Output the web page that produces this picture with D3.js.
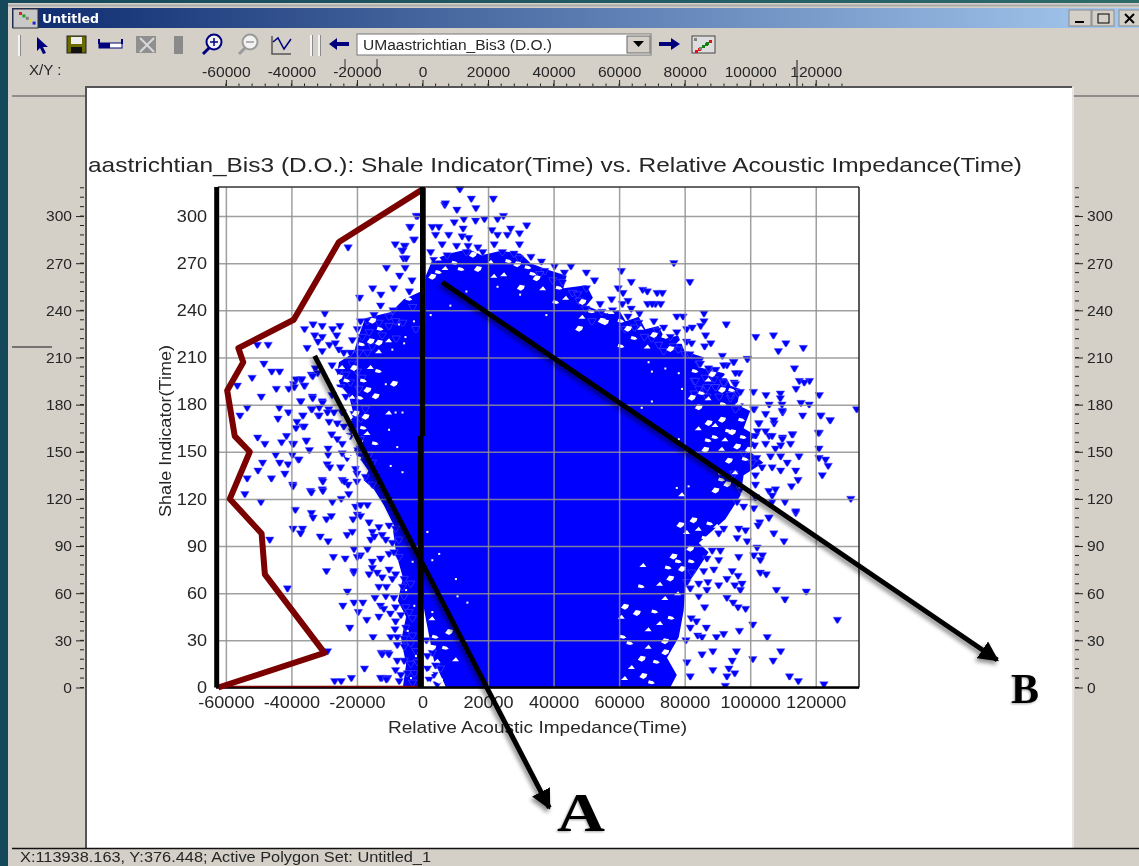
<!DOCTYPE html>
<html>
<head>
<meta charset="utf-8">
<title>Untitled</title>
<script src="https://cdn.jsdelivr.net/npm/d3@7"></script>
<style>
  html, body { margin: 0; padding: 0; background: #14485a; overflow: hidden; }
  svg { display: block; filter: blur(0.35px); }
  text { font-family: "Liberation Sans", Arial, sans-serif; fill: #262626; }
</style>
</head>
<body>
<div id="chart"></div>
<script>
'use strict'
/*
 @Data
*/
const xTicks = [-60000, -40000, -20000, 0, 20000, 40000, 60000, 80000, 100000, 120000]
const yTicks = [0, 30, 60, 90, 120, 150, 180, 210, 240, 270, 300]
const xDomain = [-62800, 133200]
const yDomain = [0, 318.5]

const titleText = 'aastrichtian_Bis3 (D.O.): Shale Indicator(Time) vs. Relative Acoustic Impedance(Time)'
const xLabel = 'Relative Acoustic Impedance(Time)'
const yLabel = 'Shale Indicator(Time)'
const statusText = 'X:113938.163,  Y:376.448;  Active Polygon Set: Untitled_1'
const comboText = 'UMaastrichtian_Bis3 (D.O.)'

// outline of the part of the cloud where the markers merge to near solid blue
const coreX = [1000, 3000, 8000, 14000, 18000, 24000, 30000, 33000, 38000, 44000, 43000, 50000, 52000, 50000, 56000, 60000, 62000, 66000, 68000, 72000, 74000, 78000, 80000, 86000, 84000, 92000, 94000, 97000, 96000, 100000, 98000, 102000, 100000, 104000, 98000, 97000, 92400, 84300, 87300, 83300, 80200, 79700, 78200, 74600, 77600, 75600, 7200, 3500, 1070, -1070, -4100, -8700, -11800, -14800, -18000, -16500, -20900, -18000, -23100, -20900, -22500, -25000, -26100, -25500, -21000, -19400, -17500, -9600, -5700, 460]
const coreY = [262, 272, 276, 279, 275, 278, 276, 270, 266, 262, 254, 256, 248, 243, 238, 240, 233, 236, 228, 230, 222, 224, 214, 210, 204, 200, 192, 190, 180, 176, 165, 160, 150, 143, 135, 122, 107, 92, 86, 73, 64, 49, 32, 19, 8, 0, 0, 17, 43, 68, 87, 103, 116, 126, 132, 138, 151, 157, 167, 173, 186, 192, 199, 207, 213, 224, 235, 239, 247, 253]

// crowded wedge left of the zero line at the bottom of the plot
const wedgeX = [-1000, -9000, -8000, -6000, -7500, -5000, -6500, -5000, -6000, -500]
const wedgeY = [100, 100, 85, 70, 55, 45, 30, 15, 0, 0]

// holes left in the blue
const smallGaps = [[-7200,231],[-5200,223],[-2600,233],[-9200,215],[-5600,219],[-11200,193],[-6100,175],[-8200,175],[-10200,164],[-7700,153],[-6100,137],[-9700,141],[3000,81],[10200,69],[5100,85],[1500,99],[10700,58],[13700,54],[3000,48],[22900,255],[29800,250],[13400,252],[8500,243],[2500,237],[37800,237],[70000,201],[74100,203],[78200,200],[69000,207],[79200,190],[70000,182],[66900,178],[78200,158],[81200,128],[77600,127],[-3000,80],[-5000,62],[-2500,52],[-4500,36],[-2000,20],[-3500,6]]
const largeGaps = [[-13300,220],[-13300,214],[-17900,196],[-14300,186],[-16800,162],[-14300,156],[-17400,173],[-10200,175],[-13300,202],[-8700,194],[3000,44],[4000,33],[3000,26],[4600,17],[2500,10],[5100,5],[2000,3],[7100,26],[8100,36],[10200,18],[11900,267],[3000,262],[21900,262],[33800,264],[30000,255],[-5000,257],[-4000,248],[47800,229],[48800,236],[60700,218],[54700,234],[84300,165],[89400,160],[87300,169],[89400,167],[93500,164],[91400,171],[79200,123],[91400,133],[89400,126],[67400,78],[78200,81],[76600,84],[72500,66],[66900,65],[75600,70],[74100,57],[71000,49],[61800,52],[69000,37],[61300,33],[66900,19],[63900,13],[71500,17],[67400,8],[61800,6],[70000,4],[74100,23],[69000,26],[63400,29],[65400,48],[60800,45],[75100,77],[78700,104],[72500,41]]
const rightBandGaps = [[97500,171],[94500,163],[92400,158],[98000,160],[96000,154],[91400,152],[98600,146],[93500,145],[95500,137],[91400,137],[93000,130],[97500,128],[87300,158],[86300,152],[87300,196],[83300,202],[88400,200],[92400,198],[85300,188],[91400,190],[87300,184],[94500,190],[82200,185],[96500,181],[91900,181],[84300,179],[99600,166],[101600,158],[99600,152],[84300,101],[87800,105],[82700,107],[80700,99],[86300,96],[81700,89],[89900,103],[82200,81],[79200,76],[78000,60],[76000,45],[74000,30]]
const leftBandGaps = [[-24500,204],[-23000,196],[-25500,190],[-21400,185],[-23000,180],[-20400,175],[-22500,171],[-20400,162],[-23000,160],[-20900,154],[-22500,148],[-19900,146],[-18400,141],[-17900,166],[-16800,190],[-15800,204],[-18400,219],[-15800,221],[-21400,217],[-12800,229],[-15300,234],[-10200,221],[-18900,185],[-25500,198],[-26500,183],[-24500,179],[-20900,204]]
const topBandGaps = [[5000,273],[10000,271],[15400,276],[20900,271],[26400,272],[28900,270],[7000,267],[5000,265],[16900,267],[24900,263],[32300,268],[34800,261],[36800,254],[41800,255],[44800,261],[43800,248],[40800,246],[48800,246],[52200,246],[51700,240],[55700,233],[57700,239],[60700,234],[62700,229],[66700,229],[64700,223],[70600,225],[68700,217],[74100,224],[75600,216],[78600,220]]

// single markers around the cloud: left side, upper part
const leftUpper = [[-29800,238],[-36000,228],[-33400,231],[-30600,230],[-27400,228],[-25200,230],[-32900,224],[-30600,223],[-26200,224],[-31900,220],[-35200,216],[-28400,218],[-26600,219],[-21400,221],[-30600,214],[-25500,215],[-32700,203],[-33900,199],[-37200,196],[-35900,192],[-39300,193],[-37200,182],[-33600,185],[-30600,182],[-33900,177],[-31500,178],[-36500,173],[-31800,173],[-28600,177],[-38300,169],[-36500,166],[-27700,161],[-35500,157],[-39600,155],[-34500,151],[-28800,152],[-28800,148],[-37900,145],[-29100,142],[-28300,140],[-25000,140],[-39600,129],[-30600,132],[-34200,125],[-30600,126],[-24500,132],[-22700,129],[-22500,123],[-20000,131],[-20000,136],[-24500,149],[-50400,218],[-47100,218],[-48400,206],[-46000,201],[-43600,201],[-52000,197],[-56500,192],[-49200,185],[-53500,178],[-55700,173],[-44100,171],[-50300,159],[-38600,196],[-36800,196],[-44600,190],[-40800,190],[-39100,191],[-36100,192],[-37100,182],[-33500,184],[-43700,178],[-40900,175],[-33700,177],[-36500,173],[-31500,173],[-30500,181],[-36100,166],[-41500,160],[-38600,165],[-29000,175],[-28500,169],[-32000,200],[-33500,198],[-18900,233],[-16800,233],[-19900,228],[-18400,223],[-16300,226],[-14800,237],[-12800,243],[-13300,232],[-10200,236],[-8200,233],[-10200,230],[-24000,213],[-22000,213],[-19400,213],[-16800,213],[-15300,217],[-12300,224],[-27600,205],[-21400,206],[-25500,201],[-23400,199],[-19900,201],[-18400,197],[-27600,186],[-25000,191],[-22000,194],[-19400,190],[-23400,185],[-20900,183],[-24500,175],[-17400,177],[-27000,175],[-20900,174],[-24000,166],[-18900,171],[-21400,163],[-18900,158],[-24500,155],[-20400,139],[-17400,134],[-15300,143],[-16300,148],[-15300,129],[-22000,160],[-26000,168],[-23000,146],[-19000,147],[-20000,152],[-26000,158]]

// left side, lower part
const leftLower = [[-48100,155],[-43000,156],[-39300,155],[-35400,157],[-44800,148],[-39700,148],[-37700,145],[-48800,143],[-43600,143],[-41000,142],[-50200,138],[-42000,136],[-53500,133],[-46100,133],[-39500,128],[-54200,123],[-33900,124],[-30400,131],[-30400,125],[-49300,118],[-38800,113],[-33900,111],[-33400,108],[-29300,107],[-27800,109],[-39500,101],[-36600,101],[-37200,98],[-31200,96],[-28800,93],[-46600,94],[-27200,83],[-23600,82],[-29300,74],[-21000,73],[-41200,63],[-22900,61],[-24300,52],[-20900,54],[-18200,54],[-19600,48],[-17000,43],[-22200,38],[-15100,32],[-29000,23],[-12600,22],[-10600,22],[-17700,12],[-21700,6],[-26800,4],[-24800,4],[-12400,6],[-10600,6],[-27500,118],[-24800,120],[-23800,131],[-16300,105],[-15300,99],[-13300,102],[-12300,97],[-11200,94],[-15800,94],[-14700,96],[-10200,103],[-8200,101],[-9200,92],[-7200,94],[-20900,88],[-16800,88],[-10200,85],[-8700,86],[-7200,83],[-15300,80],[-12800,82],[-15300,76],[-16300,72],[-13800,73],[-10200,75],[-12300,70],[-8200,72],[-5600,69],[-9200,69],[-13300,64],[-11000,64],[-6100,64],[-3600,66],[-14500,57],[-11200,58],[-8700,57],[-5600,58],[-12800,52],[-11800,50],[-8200,51],[-5100,51],[-9800,47],[-13300,45],[-6600,46],[-4100,48],[-3100,44],[-8200,42],[-5100,38],[-8400,37],[-9700,32],[-7700,32],[-5600,31],[-3100,33],[-3600,28],[-7700,27],[-5600,26],[-2000,23],[-7700,17],[-5600,17],[-3600,15],[-8200,11],[-6600,8],[-4600,9],[-2500,9],[-7100,4],[-3000,3],[-1500,16],[-12300,21],[-10200,21],[-12800,6],[-11000,5],[-20400,115],[-18900,116],[-16800,116],[-19900,110],[-21200,107],[-18900,109],[-23000,97],[-21400,99],[-18900,84],[-19900,83],[-20900,74],[1200,30],[3000,22],[1500,20],[4000,14],[1500,12],[3500,8],[5500,12],[2000,5],[4500,2]]

// above the cloud
const topFringe = [[6800,307],[-1900,300],[-3900,293],[-22700,280],[-8300,282],[-5300,281],[-2700,285],[-6300,278],[-5800,273],[-11000,267],[-15200,254],[-12700,250],[-8800,254],[-19200,248],[-5300,267],[-3200,259],[-7000,262],[-4000,252],[11400,317],[14900,311],[21600,311],[7000,308],[10500,304],[16300,305],[-1500,300],[-3700,293],[12600,298],[9700,296],[16200,297],[18900,298],[22900,298],[24700,300],[31800,294],[26900,292],[21200,291],[29600,289],[12400,292],[3000,293],[5000,293],[4000,288],[8000,288],[12100,287],[14100,286],[22900,288],[25900,288],[29600,282],[-2500,285],[6000,282],[10400,281],[13900,281],[16900,280],[21900,282],[-5500,281],[-6000,278],[2500,277],[7500,275],[13400,277],[18400,277],[24400,277],[27900,276],[33100,274],[29500,273],[-5000,273],[3500,272],[36300,271],[45300,268],[40300,268],[76700,270],[81600,258],[60700,265],[63700,258],[50000,264],[52500,259],[43300,264],[37300,265],[39800,259],[35800,263],[42800,258],[50000,254],[67200,253],[71600,251],[59700,254],[61200,251],[57700,247],[62700,246],[61000,244],[68700,244],[71100,244],[54200,244],[63700,241],[45800,251],[47300,250],[47800,246],[49800,241],[51700,233],[54700,239],[77600,236],[70600,233],[66200,238],[62700,236],[73600,229],[80600,228],[77600,226],[80600,220],[75600,223],[71600,227],[72100,218],[67700,223],[61700,228],[64700,229],[76600,217],[73600,214],[80100,212],[78100,215],[68600,252],[73200,251],[70100,244],[72700,244],[58000,240],[66000,232],[70000,222],[-9000,240],[-3000,242],[-6000,232],[-2000,228],[-8000,222]]

// right side, upper part
const rightUpper = [[85900,238],[79500,236],[85900,233],[92700,231],[84900,230],[82300,229],[86400,224],[101700,223],[107100,224],[110900,219],[116200,216],[108600,214],[82100,219],[88000,219],[86100,217],[91500,211],[81600,212],[94900,207],[99200,209],[113500,203],[92900,205],[96600,200],[84400,206],[87500,202],[89500,202],[115000,195],[118100,195],[116500,194],[114000,190],[121100,186],[101000,188],[104800,186],[109200,187],[109200,184],[109700,180],[115500,181],[118000,180],[105800,180],[101200,177],[116000,173],[109900,175],[121600,173],[124400,170],[107300,168],[102700,168],[132500,177],[95100,194],[89000,196],[92000,193],[82900,195],[86400,189],[89500,191],[96300,187],[82900,187],[94000,184],[90500,185],[96700,179],[121100,162],[113000,161],[109900,159],[105800,160],[102200,163],[84800,206],[87300,203],[89400,202],[91900,205],[95000,207],[99100,209],[95500,200],[83300,195],[86300,197],[91900,194],[89400,191],[95500,193],[86800,191],[97000,188],[84300,190],[86800,185],[94000,186],[95500,177],[101100,177],[104700,174],[107200,170],[102600,168],[109800,176]]

// right side, middle
const rightMiddle = [[104700,163],[101600,160],[106700,160],[109800,158],[112800,161],[112300,155],[109300,154],[104700,155],[101300,154],[107700,152],[120800,162],[121500,173],[124400,170],[121000,152],[121000,146],[123000,145],[123800,141],[114900,147],[109300,147],[106200,147],[111300,143],[113900,138],[122000,135],[114600,132],[112600,128],[107700,126],[105700,125],[106700,122],[102000,146],[103600,140],[106700,140],[109300,138],[101600,135],[101600,129],[130700,120],[110600,118],[113900,111],[106700,118],[98000,149],[100600,143],[95000,136],[97000,126],[101600,121],[101100,114],[105700,108],[96000,118],[98000,115]]

// right side, lower part
const rightLower = [[113900,112],[105700,108],[102900,105],[107200,98],[110300,93],[102400,103],[96500,101],[98600,100],[91900,101],[96000,95],[99100,93],[90400,98],[102100,89],[96500,83],[101100,84],[103700,84],[103100,81],[88400,87],[90900,87],[90400,81],[86800,82],[103100,73],[104900,72],[94500,74],[96300,71],[92900,69],[88900,75],[85800,74],[82200,73],[84300,66],[87100,67],[80700,67],[90400,65],[95300,65],[97500,66],[97000,62],[86800,62],[81700,63],[108000,62],[117100,61],[110600,56],[84300,58],[92900,57],[94800,54],[96300,51],[98600,50],[86100,51],[126600,43],[100800,40],[96700,36],[86600,38],[82000,44],[83600,42],[81700,38],[105200,32],[91900,34],[89700,32],[84000,33],[85300,32],[80400,30],[109300,23],[95800,23],[88600,23],[85300,21],[100800,18],[94500,17],[107000,17],[80700,16],[93500,12],[88600,11],[95300,9],[92900,7],[112000,7],[81700,7],[114700,4],[122500,2],[92400,1]]

// hand drawn polygon (dark red) and the black marks put on top of the plot
const polygonX = [-62300, -29900, -48100, -49100, -58800, -52700, -57300, -58800, -59600, -54700, -56200, -39300, -25500, 0]
const polygonY = [0, 22, 72, 98, 120, 150, 160, 179, 189, 207, 216, 234, 283.5, 317]
const polygonBaseX = [-62300, 0]
const polygonBaseY = [0.6, 0.6]
const polygonEdgeX = [800, 800]
const polygonEdgeY = [232, 318]
const leftBarX = [-62800, -62800]
const leftBarY = [0, 318.5]
const zeroLineUpperX = [0, 0]
const zeroLineUpperY = [160, 318.5]
const zeroLineLowerX = [-500, -500]
const zeroLineLowerY = [0, 160]
const arrowAX = [-32900, 38700]
const arrowAY = [211, -76.6]
const arrowBX = [6000, 175400]
const arrowBY = [258, 17.5]

/*
 @Constants: layout
*/
const totalWidth = 1139
const totalHeight = 866
const plot = { left: 218, right: 859, top: 187, bottom: 687.5 }

const xscale = d3.scaleLinear().domain(xDomain).range([plot.left - 1.3, plot.right])
const yscale = d3.scaleLinear().domain(yDomain).range([plot.bottom, plot.top])

const svg = d3.select('#chart').append('svg')
  .attr('width', totalWidth)
  .attr('height', totalHeight)

const defs = svg.append('defs')
const titleGrad = defs.append('linearGradient').attr('id', 'titleGrad')
titleGrad.append('stop').attr('offset', '0%').attr('stop-color', '#0c2a6e')
titleGrad.append('stop').attr('offset', '100%').attr('stop-color', '#a6caf0')
const tealGrad = defs.append('linearGradient').attr('id', 'tealGrad')
tealGrad.append('stop').attr('offset', '0%').attr('stop-color', '#14485a')
tealGrad.append('stop').attr('offset', '100%').attr('stop-color', '#2f6a6a')
defs.append('clipPath').attr('id', 'plotClip').append('rect')
  .attr('x', plot.left).attr('y', plot.top - 1)
  .attr('width', plot.right - plot.left).attr('height', plot.bottom - plot.top + 1)
defs.append('marker').attr('id', 'arrowHead')
  .attr('viewBox', '0 0 10 10').attr('refX', 9).attr('refY', 5)
  .attr('markerWidth', 4).attr('markerHeight', 4.2).attr('orient', 'auto')
  .append('path').attr('d', 'M0,0 L10,5 L0,10 Z').attr('fill', '#000')

function box(x, y, w, h, fill, stroke) {
  return svg.append('rect').attr('x', x).attr('y', y).attr('width', w).attr('height', h)
    .attr('fill', fill).attr('stroke', stroke || 'none')
}
function hline(x1, x2, y, color, w) {
  svg.append('line').attr('x1', x1).attr('x2', x2).attr('y1', y).attr('y2', y)
    .attr('stroke', color).attr('stroke-width', w || 1)
}
// the source screenshot is stretched sideways, so stretch real text the same way
function stretch(sel, factor) {
  sel.each(function () {
    let len = this.getComputedTextLength()
    d3.select(this).attr('textLength', len * factor).attr('lengthAdjust', 'spacingAndGlyphs')
  })
  return sel
}
function label(txt, x, y, size, anchor, factor) {
  let t = svg.append('text').attr('x', x).attr('y', y)
    .style('font-size', size + 'px').attr('text-anchor', anchor || 'start').text(txt)
  return stretch(t, factor || 1)
}

/*
 Window frame
*/
box(0, 0, totalWidth, 3, 'url(#tealGrad)')
box(0, 0, 8, totalHeight, '#14485a')
box(8, 3, totalWidth - 8, totalHeight - 3, '#d4d0c8')
hline(8, totalWidth, 5.5, '#a9a9a9', 2)
box(12, 8, totalWidth - 12, 20, 'url(#titleGrad)')
box(13, 9, 25, 19, '#c8c8c8', '#333')
svg.selectAll('.titleDot').data(['#e02020', '#20a020', '#808080', '#e0e020', '#2020e0']).enter()
  .append('rect').attr('class', 'titleDot')
  .attr('x', (d, i) => 19 + i * 3.4).attr('y', (d, i) => 12 + i * 2.4)
  .attr('width', 3).attr('height', 3).attr('fill', d => d)
svg.append('text').attr('x', 42).attr('y', 23).text('Untitled')
  .style('font-family', '"DejaVu Sans", sans-serif').style('font-size', '12.5px')
  .style('font-weight', 'bold').style('fill', '#fff')

// window buttons
;[1069, 1092, 1119].forEach(function (x, i) {
  box(x, 10, 22, 16, '#d4d0c8', '#8a8a8a')
})
hline(1075, 1084, 22, '#000', 2)
box(1098, 14, 11, 9, 'none', '#000')
svg.append('path').attr('d', 'M1125,14 L1134,23 M1134,14 L1125,23').attr('stroke', '#000').attr('stroke-width', 2)

// toolbar
;[19, 311, 319].forEach(function (x) {
  svg.append('line').attr('x1', x).attr('x2', x).attr('y1', 35).attr('y2', 56).attr('stroke', '#f4f4f4').attr('stroke-width', 2)
  svg.append('line').attr('x1', x + 1.5).attr('x2', x + 1.5).attr('y1', 35).attr('y2', 56).attr('stroke', '#8a8a8a')
})
const navy = '#00007f'
svg.append('path').attr('d', 'M37,37 L48,47 L43,47 L46,53 L43,54 L40,48 L37,51 Z').attr('fill', navy)
box(67, 36, 19, 17, '#6b6b00', '#222')
box(71, 37, 11, 7, '#eee')
box(71, 47, 11, 6, '#111')
box(99, 43, 23, 5, '#fff', navy)
box(99, 43, 11, 5, navy)
svg.append('path').attr('d', 'M99,39v5 M122,39v5').attr('stroke', navy).attr('stroke-width', 2)
box(136, 36, 20, 17, '#8f8f8f')
svg.append('path').attr('d', 'M140,38 L154,52 M154,38 L140,52').attr('stroke', '#d8d8d8').attr('stroke-width', 2)
box(174, 36, 9, 18, '#8a8a8a')
function lens(cx, color, plus) {
  svg.append('circle').attr('cx', cx).attr('cy', 42).attr('r', 7.5).attr('fill', '#f2f2f2').attr('stroke', color).attr('stroke-width', 2)
  svg.append('line').attr('x1', cx - 5).attr('x2', cx - 11).attr('y1', 48).attr('y2', 54).attr('stroke', color).attr('stroke-width', 3)
  hline(cx - 4, cx + 4, 42, color, 1.5)
  if (plus) svg.append('line').attr('x1', cx).attr('x2', cx).attr('y1', 38).attr('y2', 46).attr('stroke', color).attr('stroke-width', 1.5)
}
lens(214, navy, true)
lens(250, '#9a9a9a', false)
svg.append('path').attr('d', 'M272,36 V54 H291').attr('fill', 'none').attr('stroke', '#555').attr('stroke-width', 1.5)
svg.append('path').attr('d', 'M273,42 L278,38 L284,49 L291,39').attr('fill', 'none').attr('stroke', navy).attr('stroke-width', 1.5)
svg.append('path').attr('d', 'M329,44 L337,38 V42 H349 V46 H337 V50 Z').attr('fill', navy)
box(357, 34, 294, 21, '#fff', '#777')
box(627, 36, 23, 17, '#d4d0c8', '#666')
svg.append('path').attr('d', 'M633,41 H644 L638.5,47 Z').attr('fill', '#000')
label(comboText, 363, 49.5, 14, 'start', 1).attr('textLength', 189)
svg.append('path').attr('d', 'M680,44 L671,38 V42 H659 V46 H671 V50 Z').attr('fill', navy)
box(692, 36, 23, 17, '#ddd', '#444')
svg.selectAll('.iconDot').data(['#808080', '#108010', '#e01010', '#e01010', '#108010', '#e01010', '#108010', '#808080']).enter()
  .append('rect').attr('class', 'iconDot')
  .attr('x', (d, i) => 694 + (i * 11) % 18).attr('y', (d, i) => 38 + (i * 5) % 13)
  .attr('width', 3).attr('height', 3).attr('fill', d => d)

// panel edges
hline(12, 86, 96, '#777', 1.5)
hline(1073, totalWidth, 96, '#777', 1.5)
hline(12, 52, 347, '#555', 1.5)
label('X/Y :', 29, 75, 14, 'start', 1.08)

/*
 White chart sheet
*/
box(86, 87, 986, 761, '#fff')
svg.append('path').attr('d', 'M86,848 V87 H1072').attr('fill', 'none').attr('stroke', '#555').attr('stroke-width', 2)
svg.append('line').attr('x1', 1073).attr('x2', 1073).attr('y1', 87).attr('y2', 848).attr('stroke', '#eee').attr('stroke-width', 1.5)

/*
 The cloud
*/
const plotLayer = svg.append('g').attr('clip-path', 'url(#plotClip)')
const corePath = d3.line().x(d => xscale(coreX[d])).y(d => yscale(coreY[d]))
plotLayer.append('path')
  .attr('d', corePath(d3.range(coreX.length)) + 'Z')
  .attr('fill', '#0000ff')
const wedgePath = d3.line().x(d => xscale(wedgeX[d])).y(d => yscale(wedgeY[d]))
plotLayer.append('path')
  .attr('d', wedgePath(d3.range(wedgeX.length)) + 'Z')
  .attr('fill', '#0000ff')

// flat topped marker, wider than it is tall as in the stretched screenshot
const markerType = {
  draw: function (ctx, size) {
    let w = Math.sqrt(size)
    ctx.moveTo(-w / 2, -w * 0.32)
    ctx.lineTo(w / 2, -w * 0.32)
    ctx.lineTo(w * 0.08, w * 0.4)
    ctx.lineTo(-w * 0.08, w * 0.4)
    ctx.closePath()
  }
}
const allPoints = leftUpper.concat(leftLower, topFringe, rightUpper, rightMiddle, rightLower)
const marker = d3.symbol().type(markerType).size(72)
plotLayer.selectAll('.point').data(allPoints).enter().append('path')
  .attr('d', marker)
  .attr('transform', d => 'translate(' + xscale(d[0]) + ',' + yscale(d[1]) + ')')
  .attr('fill', '#0000ff')
  .attr('stroke', '#5a5aff').attr('stroke-width', 0.5)

// holes between the merged markers, three rough shapes so they do not look stamped
const holeShapes = ['l3,-4 l5,1 l-1,3 l-3,2 Z', 'l7,0 l-3,-4 Z', 'l1,-3 l4,1 l2,2 l-3,1 Z']
const holes = largeGaps.concat(rightBandGaps, leftBandGaps, topBandGaps)
plotLayer.selectAll('.largeGap').data(holes).enter().append('path')
  .attr('d', (d, i) => 'M' + (xscale(d[0]) - 4) + ',' + (yscale(d[1]) + 2) + holeShapes[i % 3])
  .attr('fill', '#fff')
plotLayer.selectAll('.smallGap').data(smallGaps).enter().append('rect')
  .attr('x', d => xscale(d[0]) - 1).attr('y', d => yscale(d[1]) - 1)
  .attr('width', 2).attr('height', 2).attr('fill', '#fff')

/*
 Grid and axes
*/
const gridX = svg.append('g').attr('transform', 'translate(0,' + plot.bottom + ')')
  .call(d3.axisBottom(xscale).tickValues(xTicks).tickFormat(d => String(d)).tickSize(-(plot.bottom - plot.top)).tickPadding(9))
gridX.select('.domain').remove()
gridX.selectAll('line').attr('stroke', '#8f8f8f').attr('stroke-width', 1.5).attr('opacity', 0.85)
gridX.selectAll('text').style('font-size', '16px').style('font-family', null)
stretch(gridX.selectAll('text'), 1.13)

const gridY = svg.append('g').attr('transform', 'translate(' + plot.left + ',0)')
  .call(d3.axisLeft(yscale).tickValues(yTicks).tickSize(-(plot.right - plot.left)).tickPadding(11))
gridY.select('.domain').remove()
gridY.selectAll('line').attr('stroke', '#8f8f8f').attr('stroke-width', 1.5).attr('opacity', 0.85)
gridY.selectAll('text').style('font-size', '16px').style('font-family', null)
stretch(gridY.selectAll('text'), 1.13)

hline(plot.left, plot.right, plot.top, '#333', 1.5)
svg.append('line').attr('x1', plot.right).attr('x2', plot.right).attr('y1', plot.top).attr('y2', plot.bottom).attr('stroke', '#222').attr('stroke-width', 1.5)
hline(plot.left - 2, plot.right, plot.bottom, '#000', 2.5)

label(titleText, 88, 172, 21, 'start', 1.0).attr('textLength', 934)
label(xLabel, 537.5, 733, 17, 'middle', 1).attr('textLength', 299)
svg.append('text').attr('transform', 'translate(171,431) rotate(-90)')
  .attr('text-anchor', 'middle').style('font-size', '17px')
  .attr('textLength', 172).attr('lengthAdjust', 'spacingAndGlyphs').text(yLabel)

/*
 Rulers outside of the sheet
*/
const rulerMinorX = d3.range(-60000, 130001, 4000)
const rulerMinorY = d3.range(0, 319, 6)
const topRuler = svg.append('g').attr('transform', 'translate(0,86)')
  .call(d3.axisTop(xscale).tickValues(xTicks).tickFormat(d => String(d)).tickSize(6).tickPadding(3))
topRuler.select('.domain').remove()
topRuler.selectAll('line').attr('stroke', '#222')
topRuler.selectAll('text').style('font-size', '15px').style('font-family', null)
stretch(topRuler.selectAll('text'), 1.04)
topRuler.selectAll('.minor').data(rulerMinorX).enter().append('line').attr('class', 'minor')
  .attr('x1', d => xscale(d)).attr('x2', d => xscale(d)).attr('y1', 0).attr('y2', -2.5).attr('stroke', '#222')

const rightRuler = svg.append('g').attr('transform', 'translate(1075,0)')
  .call(d3.axisRight(yscale).tickValues(yTicks).tickSize(8).tickPadding(4))
rightRuler.select('.domain').remove()
rightRuler.selectAll('line').attr('stroke', '#222')
rightRuler.selectAll('text').style('font-size', '15px').style('font-family', null)
stretch(rightRuler.selectAll('text'), 1.04)
rightRuler.selectAll('.minor').data(rulerMinorY).enter().append('line').attr('class', 'minor')
  .attr('y1', d => yscale(d)).attr('y2', d => yscale(d)).attr('x1', 0).attr('x2', 4).attr('stroke', '#222')

const leftRuler = svg.append('g').attr('transform', 'translate(84,0)')
  .call(d3.axisLeft(yscale).tickValues(yTicks).tickSize(8).tickPadding(4))
leftRuler.select('.domain').remove()
leftRuler.selectAll('line').attr('stroke', '#222')
leftRuler.selectAll('text').style('font-size', '15px').style('font-family', null)
stretch(leftRuler.selectAll('text'), 1.04)
leftRuler.selectAll('.minor').data(rulerMinorY).enter().append('line').attr('class', 'minor')
  .attr('y1', d => yscale(d)).attr('y2', d => yscale(d)).attr('x1', 0).attr('x2', -4).attr('stroke', '#222')

// cursor crosshair leftovers in the top ruler
;[345, 377].forEach(function (x) {
  svg.append('line').attr('x1', x).attr('x2', x).attr('y1', 59).attr('y2', 70).attr('stroke', '#333')
})
svg.append('line').attr('x1', 797).attr('x2', 797).attr('y1', 60).attr('y2', 86).attr('stroke', '#333').attr('stroke-width', 1.2)

/*
 Status bar
*/
box(8, 848, totalWidth - 8, 18, '#d4d0c8')
hline(12, totalWidth, 848.5, '#111', 1.5)
label(statusText, 20, 862, 14, 'start', 1).attr('textLength', 411)

/*
 Annotation marks drawn on the picture, on the same scales as the data
*/
const markLine = d3.line().x(d => xscale(d[0])).y(d => yscale(d[1]))
function pairs(xs, ys) { return xs.map((x, i) => [x, ys[i]]) }

const thinRed = [pairs(polygonBaseX, polygonBaseY), pairs(polygonEdgeX, polygonEdgeY)]
svg.selectAll('.thinRed').data(thinRed).enter().append('path').attr('class', 'thinRed')
  .attr('d', markLine).attr('fill', 'none').attr('stroke', '#7b0000').attr('stroke-width', 1.5)
svg.append('path').datum(pairs(polygonX, polygonY))
  .attr('d', markLine).attr('fill', 'none').attr('stroke', '#7b0000').attr('stroke-width', 6)
  .attr('stroke-linejoin', 'round')

const blackMarks = [pairs(leftBarX, leftBarY), pairs(zeroLineUpperX, zeroLineUpperY), pairs(zeroLineLowerX, zeroLineLowerY)]
svg.selectAll('.blackMark').data(blackMarks).enter().append('path').attr('class', 'blackMark')
  .attr('d', markLine).attr('fill', 'none').attr('stroke', '#000').attr('stroke-width', (d, i) => i == 2 ? 6 : 5)

const arrows = [pairs(arrowAX, arrowAY), pairs(arrowBX, arrowBY)]
svg.selectAll('.arrow').data(arrows).enter().append('path').attr('class', 'arrow')
  .attr('d', markLine).attr('fill', 'none').attr('stroke', '#000').attr('stroke-width', 5)
  .attr('marker-end', 'url(#arrowHead)')
  .style('filter', 'drop-shadow(-2px 3px 2px rgba(0,0,0,0.45))')

function bigLetter(txt, x, y, size, w) {
  svg.append('text').attr('x', x).attr('y', y).text(txt)
    .attr('textLength', w).attr('lengthAdjust', 'spacingAndGlyphs')
    .style('font-family', '"Liberation Serif", serif').style('font-weight', 'bold')
    .style('font-size', size + 'px').style('fill', '#000')
    .style('filter', 'drop-shadow(-1px 1px 1px rgba(0,0,0,0.35))')
}
bigLetter('A', 557, 831, 54, 48)
bigLetter('B', 1011, 703, 43, 28)
</script>
</body>
</html>
